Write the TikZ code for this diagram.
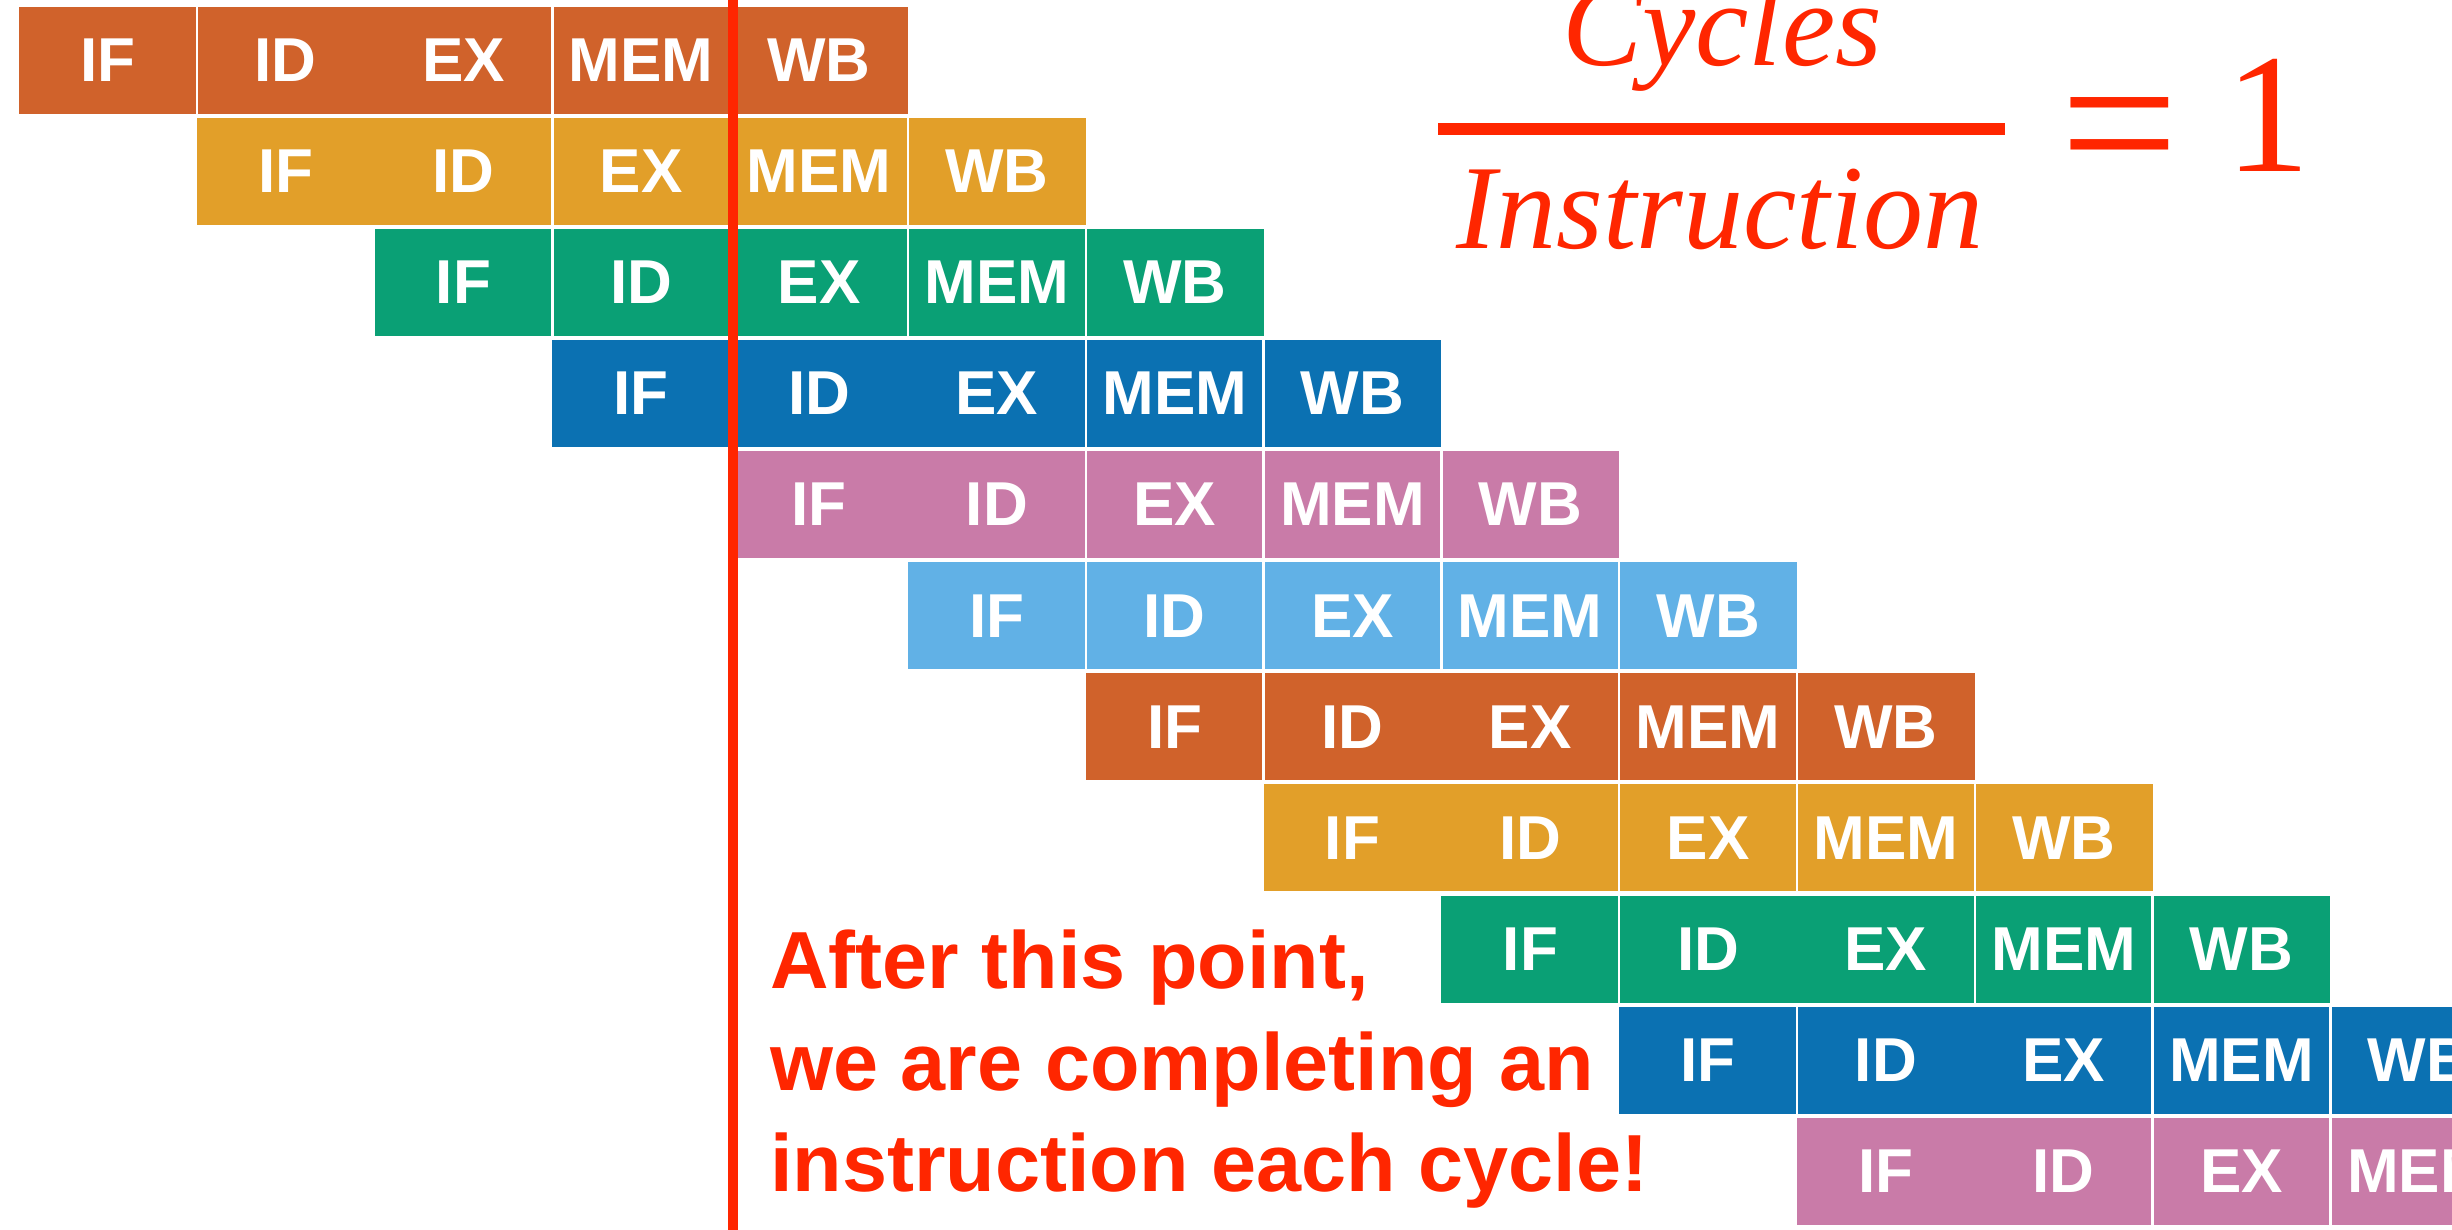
\documentclass[tikz,border=0pt]{standalone}
\usepackage{fontspec}
\setmainfont{Liberation Serif}
\setsansfont{Liberation Sans}

\definecolor{stgA}{RGB}{208,98,43}
\definecolor{stgB}{RGB}{226,159,41}
\definecolor{stgC}{RGB}{10,160,117}
\definecolor{stgD}{RGB}{11,113,178}
\definecolor{stgE}{RGB}{201,123,168}
\definecolor{stgF}{RGB}{97,177,230}
\definecolor{alert}{RGB}{255,38,0}

\tikzset{
  stage/.style={text=white, inner sep=0pt, anchor=center,
    font=\sffamily\bfseries\fontsize{31}{31}\selectfont},
  sepline/.style={draw=white, line width=1.2pt},
  marker/.style={draw=alert, line width=5pt},
  note/.style={text=alert, inner sep=0pt, anchor=base west,
    font=\sffamily\bfseries\fontsize{40.5}{40.5}\selectfont},
  frac/.style={text=alert, inner sep=0pt, anchor=base,
    font=\itshape\fontsize{60}{60}\selectfont},
  big/.style={text=alert, inner sep=0pt, anchor=base,
    font=\fontsize{85}{85}\selectfont},
}

\begin{document}
\begin{tikzpicture}[x=0.5pt,y=-0.5pt]
\useasboundingbox (0,0) rectangle (2452,1230);
\clip (0,0) rectangle (2452,1230);

% pipeline rows: row index / colour / internal boundary without a separator (0 = none)
\foreach \r/\clr/\miss in {0/stgA/2,1/stgB/1,2/stgC/0,3/stgD/2,4/stgE/1,5/stgF/0,
                           6/stgA/2,7/stgB/1,8/stgC/2,9/stgD/2,10/stgE/1}{
  \pgfmathsetmacro\xl{19+177.8*\r}
  \pgfmathsetmacro\yt{6.7+111.1*\r}
  \fill[fill=\clr] (\xl,\yt) rectangle ++(889,107);
  \foreach \s in {1,...,4}{
    \ifnum\s=\miss\relax\else
      \draw[sepline] ({\xl+177.8*\s},\yt) -- ++(0,107);
    \fi
  }
  \foreach \k/\t in {0/IF,1/ID,2/EX,3/MEM,4/WB}{
    \node[stage] (s-\r-\k) at ({\xl+177.8*\k+88.9},{\yt+53.5}) {\t};
  }
}

% steady-state marker
\coordinate (mtop) at (733,0);
\coordinate (mbot) at (733,1230);
\draw[marker] (mtop) -- (mbot);

% explanation
\node[note] (n1) at (770,988)  {After this point,};
\node[note] (n2) at (770,1090) {we are completing an};
\node[note] (n3) at (770,1191) {instruction each cycle!};

% CPI formula
\node[frac] (num) at (1722,66)  {Cycles};
\node[frac] (den) at (1720,249) {Instruction};
\fill[alert] (1438,123) rectangle (2005,135);
\node[big, font=\fontsize{105}{105}\selectfont] (eq) at (2120,194) {=};
\node[big] (one) at (2268,172) {1};
\end{tikzpicture}
\end{document}
